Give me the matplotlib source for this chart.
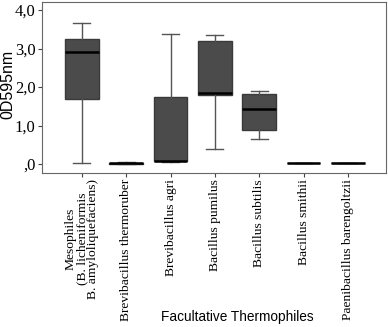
import matplotlib
matplotlib.use('Agg')
import matplotlib.pyplot as plt

# box statistics (OD595nm)
labels = ["Mesophiles\n(B. licheniformis\nB. amyloliquefaciens)",
          "Brevibacillus thermoruber", "Brevibacillus agri", "Bacillus pumilus",
          "Bacillus subtilis", "Bacillus smithii", "Paenibacillus barengoltzii"]
whislo = [0.02, 0.00, 0.06, 0.39, 0.66, 0.02, 0.04]
q1     = [1.69, 0.00, 0.07, 1.80, 0.89, 0.02, 0.04]
med    = [2.90, 0.02, 0.09, 1.84, 1.43, 0.02, 0.04]
q3     = [3.26, 0.04, 1.73, 3.19, 1.81, 0.02, 0.04]
whishi = [3.66, 0.05, 3.38, 3.34, 1.91, 0.02, 0.04]

yticks = [0, 1, 2, 3, 4]
yticklabels = [",0", "1,0", "2,0", "3,0", "4,0"]

stats = [dict(whislo=a, q1=b, med=c, q3=d, whishi=e, fliers=[])
         for a, b, c, d, e in zip(whislo, q1, med, q3, whishi)]

fig = plt.figure(figsize=(3.88, 3.27), dpi=100)
ax = fig.add_axes([0.108, 0.471, 0.887, 0.523])

ax.bxp(stats, positions=range(len(stats)), widths=0.76, patch_artist=True,
       boxprops=dict(facecolor="#4b4b4b", edgecolor="#3a3a3a", lw=1.0),
       medianprops=dict(color="black", lw=1.8),
       whiskerprops=dict(color="#555555", lw=1.0),
       capprops=dict(color="#555555", lw=1.0), capwidths=0.38)

ax.set_xlim(-0.9, 6.86)
ax.set_ylim(-0.23, 4.21)
ax.set_yticks(yticks)
ax.set_yticklabels(yticklabels, family="Liberation Serif", fontsize=12)
ax.set_xticks(range(len(labels)))
ax.set_xticklabels(labels, rotation=90, family="Liberation Serif", fontsize=9.7,
                   linespacing=0.95)
ax.tick_params(length=3, color="#444444", pad=1.5)
for s in ax.spines.values():
    s.set_color("#666666")

ax.set_ylabel("0D595nm", family="Liberation Sans", fontsize=11.5)
ax.yaxis.set_label_coords(-0.078, 0.52)
fig.text(0.612, 0.008, "Facultative Thermophiles", ha="center", va="bottom",
         family="Liberation Sans", fontsize=9.8)

fig.savefig("out.png", dpi=100)
